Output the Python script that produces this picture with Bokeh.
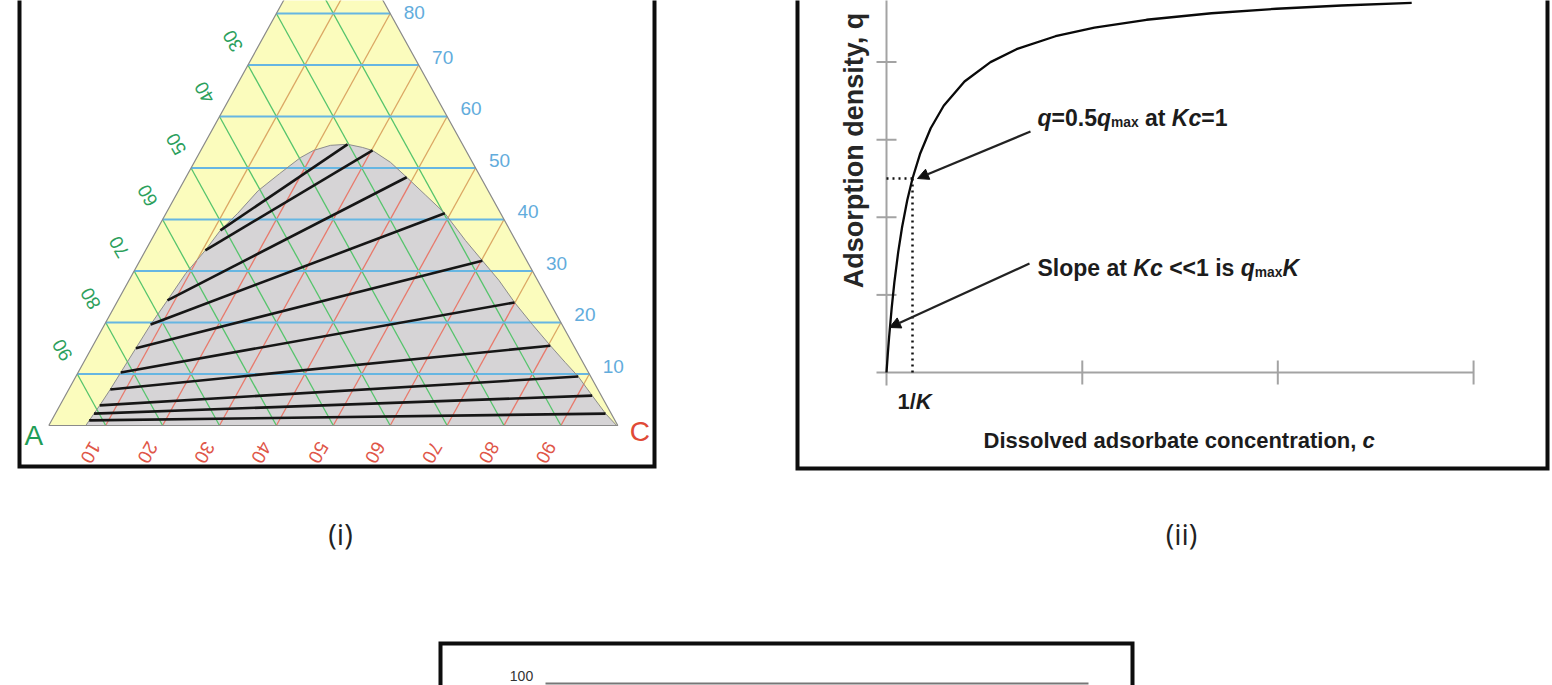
import numpy as np
from bokeh.plotting import figure
from bokeh.models import Range1d, Arrow, NormalHead
from bokeh.core.properties import value
from bokeh.embed import file_html
from bokeh.resources import INLINE

# ---------------- (i) ternary diagram data (percent) ----------------
grid_levels = [10, 20, 30, 40, 50, 60, 70, 80, 90]
b_labels = ["10", "20", "30", "40", "50", "60", "70", "80", "90"]   # right edge (blue)
a_labels = ["10", "20", "30", "40", "50", "60", "70", "80", "90"]   # left edge (green)
c_labels = ["10", "20", "30", "40", "50", "60", "70", "80", "90"]   # base (red)
vertex_labels = ["A", "C"]

binodal_b = [0.0, 3.9, 7.0, 10.3, 15.0, 19.6, 24.3, 29.5, 34.0, 37.9, 41.2, 45.6,
             48.9, 52.0, 53.4, 54.4, 54.6, 54.0, 53.4, 51.1, 48.2, 44.7, 41.2, 35.9,
             32.0, 28.2, 23.9, 19.6, 15.5, 12.2, 9.5, 5.8, 2.3, 0.0]
binodal_c = [6.5, 7.0, 7.3, 7.5, 7.8, 8.1, 8.7, 9.3, 10.5, 11.2, 12.6, 14.0,
             16.1, 18.2, 19.8, 22.3, 25.2, 28.1, 30.2, 34.5, 38.8, 43.9, 49.0, 55.3,
             60.2, 65.0, 69.9, 75.2, 80.4, 84.7, 88.3, 92.6, 96.7, 99.8]

tie_left_b = [37.9, 34.0, 24.3, 19.6, 15.0, 10.3, 7.0, 3.9, 2.3, 1.0]
tie_left_c = [11.2, 10.5, 8.7, 8.1, 7.8, 7.5, 7.3, 7.0, 6.8, 6.6]
tie_right_b = [54.6, 53.4, 48.2, 41.2, 32.0, 23.9, 15.5, 9.5, 5.8, 2.3]
tie_right_c = [25.2, 30.2, 38.8, 49.0, 60.2, 69.9, 80.4, 88.3, 92.6, 96.7]

# ---------------- (ii) Langmuir isotherm data ----------------
kc_values = [0, 0.05, 0.1, 0.2, 0.3, 0.45, 0.6, 0.8, 1.0, 1.3, 1.7, 2.2, 3.0,
             4.0, 5.0, 6.5, 8.0, 10.0, 12.5, 15.0, 17.5, 20.2]
q_over_qmax = [0, 0.0476, 0.0909, 0.1667, 0.2308, 0.3103, 0.375, 0.4444, 0.5,
               0.5652, 0.6296, 0.6875, 0.75, 0.8, 0.8333, 0.8667, 0.8889, 0.9091,
               0.9259, 0.9375, 0.9459, 0.9528]
q_ticks = [0.2, 0.4, 0.6, 0.8, 1.0]
kc_ticks = [7.53, 15.05, 22.58]
half_kc, half_q = 1.0, 0.5

# ---------------- (iii) partial panel ----------------
iii_label = "100"

# ---------------- figure ----------------
W, H = 1552, 685
p = figure(width=W, height=H, x_range=Range1d(0, W), y_range=Range1d(0, H),
           output_backend="svg", toolbar_location=None, min_border=0,
           x_axis_type=None, y_axis_type=None)
p.grid.visible = False
p.outline_line_color = None
p.background_fill_color = "white"
p.border_fill_color = "white"


def PY(y):
    return H - y


def xr(page0, page1, v0, v1):
    k = (v1 - v0) / (page1 - page0)
    return Range1d(v0 + (0 - page0) * k, v0 + (W - page0) * k)


def yr(page0, page1, v0, v1):
    k = (v1 - v0) / (page1 - page0)
    return Range1d(v0 + (H - page0) * k, v0 + (0 - page0) * k)


TX0, TX1, TYB, TYT = 48.3, 617.3, 425.0, -90.0
TW, TH = TX1 - TX0, TYB - TYT
p.extra_x_ranges = {"tx": xr(TX0, TX1, 0, 1), "cx": xr(886, 912, 0, 1)}
p.extra_y_ranges = {"ty": yr(TYB, TYT, 0, 1), "qy": yr(372, -16, 0, 1)}
T = dict(x_range_name="tx", y_range_name="ty")
Q = dict(x_range_name="cx", y_range_name="qy")

FONT = "Liberation Sans"
TXT = "#1c1c1c"

# ---------- ternary ----------
YEL, GRAY = "#fbfcbd", "#d6d4d6"
BLUE, GREEN, TAN, RED = "#66b6e2", "#55c46c", "#dba764", "#e8796b"

p.patch([0, 1, 0.5], [0, 0, 1], fill_color=YEL, line_color=None, **T)

lv = np.array(grid_levels) / 100.0
rx0, ry0 = lv, np.zeros_like(lv)
rx1, ry1 = lv + (1 - lv) / 2, 1 - lv
p.segment(rx0, ry0, rx1, ry1, line_color=TAN, line_width=1.3, **T)

bb = np.array(binodal_b) / 100.0
bc = np.array(binodal_c) / 100.0
polx, poly = bc + bb / 2, bb
p.patch(list(polx), list(poly), fill_color=GRAY, line_color=None, **T)


def inside(px, py, vx, vy):
    res = np.zeros(len(px), dtype=bool)
    n = len(vx)
    j = n - 1
    for i in range(n):
        cond = ((vy[i] > py) != (vy[j] > py)) & \
               (px < (vx[j] - vx[i]) * (py - vy[i]) / (vy[j] - vy[i] + 1e-12) + vx[i])
        res ^= cond
        j = i
    return res


red_xs, red_ys = [], []
t = np.linspace(0, 1, 1201)
for k in range(len(lv)):
    sx = rx0[k] + (rx1[k] - rx0[k]) * t
    sy = ry0[k] + (ry1[k] - ry0[k]) * t + 1e-4
    m = inside(sx, sy, polx, poly)
    idx = np.flatnonzero(np.diff(np.concatenate([[0], m.astype(int), [0]])))
    for s, e in zip(idx[::2], idx[1::2]):
        red_xs.append([sx[s], sx[e - 1]])
        red_ys.append([sy[s], sy[e - 1]])
p.multi_line(red_xs, red_ys, line_color=RED, line_width=1.3, **T)

p.segment((1 - lv) / 2, 1 - lv, 1 - lv, np.zeros_like(lv), line_color=GREEN, line_width=1.3, **T)
p.segment(lv / 2, lv, 1 - lv / 2, lv, line_color=BLUE, line_width=2.0, **T)

p.line(list(polx), list(poly), line_color="#8c8c8c", line_width=1.0, **T)

tlb, tlc = np.array(tie_left_b) / 100, np.array(tie_left_c) / 100
trb, trc = np.array(tie_right_b) / 100, np.array(tie_right_c) / 100
p.segment(tlc + tlb / 2, tlb, trc + trb / 2, trb, line_color="#161616", line_width=2.6, **T)

p.line([0, 1, 0.5, 0], [0, 0, 1, 0], line_color="#8a8a8a", line_width=1.2, **T)

# tick labels (only those whose centre lies inside the picture)
bx = 1 - lv / 2 + 24 / TW
by_page = np.maximum(TYB - lv * TH - 8, 12)          # centre in page px, kept inside
by = (TYB - by_page) / TH
keep = TYB - lv * TH - 8 > 0
p.text(bx[keep], by[keep], text=[s for s, k in zip(b_labels, keep) if k], text_color="#62acdc",
       text_font=value(FONT), text_font_size="19px", text_align="center",
       text_baseline="middle", **T)
ax_, ay_ = (1 - lv) / 2 - 15 / TW, (1 - lv) + 24 / TH
keep = TYB - ay_ * TH > 4
p.text(ax_[keep], ay_[keep], text=[s for s, k in zip(a_labels, keep) if k], text_color="#2c9f5c",
       text_font=value(FONT), text_font_size="19px", text_align="center",
       text_baseline="middle", angle=np.radians(120), **T)
p.text(lv - 15 / TW, np.full_like(lv, -27 / TH), text=c_labels, text_color="#e05648",
       text_font=value(FONT), text_font_size="19px", text_align="center",
       text_baseline="middle", angle=np.radians(-120), **T)
p.text([0 - 15 / TW], [-10 / TH], text=[vertex_labels[0]], text_color="#1f9d57",
       text_font=value(FONT), text_font_size="28px", text_align="center",
       text_baseline="middle", **T)
p.text([1 + 22 / TW], [-6 / TH], text=[vertex_labels[1]], text_color="#e04a36",
       text_font=value(FONT), text_font_size="28px", text_align="center",
       text_baseline="middle", **T)

# ---------- frames ----------
p.line([19, 19, 654, 654], [PY(-20), PY(466), PY(466), PY(-20)], line_color="#0d0d0d",
       line_width=4, line_join="miter")
p.line([797, 797, 1547, 1547], [PY(-20), PY(468), PY(468), PY(-20)], line_color="#0d0d0d",
       line_width=4, line_join="miter")
p.line([440, 440, 1132, 1132], [PY(700), PY(643), PY(643), PY(700)], line_color="#0d0d0d",
       line_width=4, line_join="miter")

for lab, x in (("(i)", 340), ("(ii)", 1181)):
    p.text([x], [PY(533)], text=[lab], text_font=value("Open Sans"), text_font_size="29px",
           text_align="center", text_baseline="middle", text_color="#222222")

# ---------- (ii) isotherm ----------
AX = "#a3a3a3"
p.segment([-10 / 26], [0], [kc_ticks[-1]], [0], line_color=AX, line_width=2, **Q)
p.segment([0], [-13 / 388], [0], [1.2], line_color=AX, line_width=2, **Q)
kt = np.array(kc_ticks)
p.segment(kt, np.full_like(kt, -12 / 388), kt, np.full_like(kt, 12 / 388), line_color=AX,
          line_width=2, **Q)
qt = np.array(q_ticks)
p.segment(np.full_like(qt, -10 / 26), qt, np.full_like(qt, 10 / 26), qt, line_color=AX,
          line_width=2, **Q)
p.line([0, half_kc], [half_q, half_q], line_color="#111111", line_width=2.5, line_dash="2 4", **Q)
p.line([half_kc, half_kc], [0, half_q], line_color="#111111", line_width=2.5, line_dash="2 4", **Q)
p.line(kc_values, q_over_qmax, line_color="#0a0a0a", line_width=2.3, **Q)

p.add_layout(Arrow(end=NormalHead(size=11, fill_color="#111111", line_color="#111111"),
                   x_start=1030, y_start=PY(131), x_end=917, y_end=PY(178),
                   line_width=2.2, line_color="#222222"))
p.add_layout(Arrow(end=NormalHead(size=11, fill_color="#111111", line_color="#111111"),
                   x_start=1029, y_start=PY(263), x_end=889, y_end=PY(327),
                   line_width=2.2, line_color="#222222"))

AW = {' ': 278, ',': 278, '.': 278, '/': 278, '<': 584, '=': 584, '0': 556, '1': 556,
      '5': 556, 'K': 722, 'S': 667, 'a': 556, 'c': 556, 'e': 556, 'i': 278, 'l': 278,
      'm': 889, 'n': 611, 'o': 611, 'p': 611, 'q': 611, 's': 556, 't': 333, 'x': 556}


def twidth(s, size):
    return sum(AW.get(ch, 556) for ch in s) / 1000.0 * size


def rich(x0, ybase, parts, size):
    x = x0
    for s, style in parts:
        if style == "sub":
            fs, yy, fst = size * 0.6, ybase + size * 0.22, "bold"
        else:
            fs, yy = size, ybase
            fst = "bold italic" if style == "it" else "bold"
        lead = len(s) - len(s.lstrip())
        core = s.strip()
        if core:
            p.text([x + twidth(s[:lead], fs)], [PY(yy)], text=[core], text_font=value(FONT),
                   text_font_size=f"{fs:.1f}px", text_font_style=fst, text_align="left",
                   text_baseline="alphabetic", text_color=TXT)
        x += twidth(s, fs)


rich(1037, 117, [("q", "it"), ("=0.5", "n"), ("q", "it"), ("max", "sub"), (" at ", "n"),
                 ("Kc", "it"), ("=1", "n")], 23)
rich(1037, 267, [("Slope at ", "n"), ("Kc", "it"), (" <<1 is ", "n"), ("q", "it"),
                 ("max", "sub"), ("K", "it")], 23)
rich(983, 440, [("Dissolved adsorbate concentration,", "n"), (" c", "it")], 22)
rich(897, 401, [("1/", "n"), ("K", "it")], 22)

p.text([853], [PY(150)], text=["Adsorption density, q"], text_font=value(FONT),
       text_font_size="27px", text_font_style="bold", text_align="center",
       text_baseline="middle", angle=np.pi / 2, text_color="#262626")

# ---------- (iii) partial ----------
p.line([545, 1088], [PY(683), PY(683)], line_color="#777777", line_width=2)
p.text([521], [PY(675)], text=[iii_label], text_font=value(FONT), text_font_size="14px",
       text_align="center", text_baseline="middle", text_color="#333333")

open("out.html", "w").write(file_html(p, INLINE))
